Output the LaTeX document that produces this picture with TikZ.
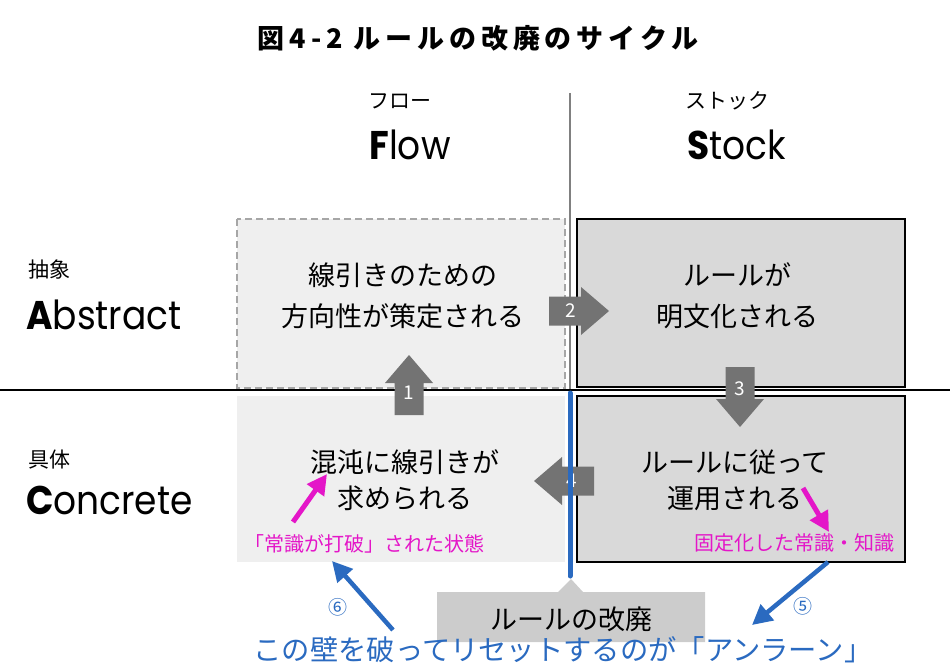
\documentclass[tikz,border=0pt]{standalone}
\usepackage{fontspec}
\usepackage{tikz}
\usetikzlibrary{arrows.meta}
\setmainfont{Noto Sans CJK JP}
\newfontfamily\geo{Poppins}[FakeStretch=0.9]
\newfontfamily\titrefont{Noto Sans CJK JP}[LetterSpace=18]
\definecolor{clair}{RGB}{239,239,239}
\definecolor{fonce}{RGB}{217,217,217}
\definecolor{grisfleche}{RGB}{115,115,115}
\definecolor{grisbulle}{RGB}{204,204,204}
\definecolor{bleumur}{RGB}{42,106,192}
\definecolor{rose}{RGB}{228,22,200}
\newcommand{\longfl}{60}
\newcommand{\queuefl}{32}
\newcommand{\demiq}{14.5}
\newcommand{\demit}{24}
\tikzstyle{cadre}=[draw=black,line width=2pt,fill=fonce]
\tikzstyle{pointille}=[draw=black!35,line width=1.5pt,dash pattern=on 7pt off 4pt,fill=clair]
\tikzstyle{texte}=[align=center,inner sep=0]
\tikzstyle{num}=[text=white,inner sep=0,font=\fontsize{19}{19}\selectfont]
\tikzstyle{note}=[text=rose,inner sep=0,font=\fontsize{20}{20}\selectfont]
\tikzstyle{rappel}=[line width=4.5pt,-{Triangle[length=20pt,width=20pt]}]
\tikzstyle{titre}=[font=\fontsize{40}{40}\selectfont\geo,inner sep=0]
\tikzstyle{sous}=[font=\fontsize{21}{21}\selectfont,inner sep=0]
\newcommand{\fleche}[3]{
  \begin{scope}[shift={#1},rotate=#2]
    \fill[grisfleche] (0,-\demiq) -- (\queuefl,-\demiq) -- (\queuefl,-\demit) -- (\longfl,0)
      -- (\queuefl,\demit) -- (\queuefl,\demiq) -- (0,\demiq) -- cycle;
    \node[num] at (22,0) {#3};
  \end{scope}
}
\begin{document}
\begin{tikzpicture}[x=1pt,y=-1pt]
\useasboundingbox (0,0) rectangle (950,671);

\node[font=\titrefont\bfseries\fontsize{27}{27}\selectfont] (fig) at (478,38) {図4-2 ルールの改廃のサイクル};

%axes
\draw[black!50,line width=1.2pt] (570,93) -- (570,390);
\draw[line width=1.3pt] (0,390) -- (950,390);

\node[sous] (flux) at (400,101) {フロー};
\node[titre] (flow) at (410,145) {{\bfseries F}low};
\node[sous] (stock) at (727,101) {ストック};
\node[titre] (stk) at (737,145) {{\bfseries S}tock};

\node[sous,anchor=west] (abs) at (28,270) {抽象};
\node[titre,anchor=west] (abstract) at (26,315) {{\bfseries A}bstract};
\node[sous,anchor=west] (conc) at (28,460) {具体};
\node[titre,anchor=west] (concrete) at (26,500) {{\bfseries C}oncrete};

%cases
\path[pointille] (237,219) rectangle (565,388);
\path[cadre] (577,219) rectangle (905,387);
\path[fill=clair] (237,396) rectangle (565,562);
\path[cadre] (577,396) rectangle (905,562);

\node[texte,font=\fontsize{27}{41}\selectfont] (ligne) at (403,296) {線引きのための\\方向性が策定される};
\node[texte,font=\fontsize{27}{41}\selectfont] (regle) at (737,296) {ルールが\\明文化される};
\node[texte,font=\fontsize{27}{36}\selectfont] (chaos) at (405,480) {混沌に線引きが\\求められる};
\node[texte,font=\fontsize{27}{36}\selectfont] (usage) at (735,480) {ルールに従って\\運用される};

%fleches 1 a 4
\fleche{(409,415)}{90}{1}
\fleche{(549,311)}{0}{2}
\fleche{(740,367)}{-90}{3}
\fleche{(594,481)}{180}{4}

%le mur
\draw[bleumur,line width=5pt,line cap=round] (570,393) -- (570,576);

\fill[grisbulle] (437,592) -- (558,592) -- (571,579) -- (583,592) -- (705,592) -- (705,642) -- (437,642) -- cycle;
\node[font=\fontsize{27}{27}\selectfont,inner sep=0] (bulle) at (571,619) {ルールの改廃};

%notes
\node[note] (brise) at (364,544) {「常識が打破」された状態};
\node[note] (fige) at (794,543) {固定化した常識・知識};
\coordinate (r1) at (293,522);
\coordinate (r2) at (327,474);
\coordinate (r3) at (803,488);
\coordinate (r4) at (829,532);
\draw[rappel,rose,line width=5pt] (r1) -- (r2);
\draw[rappel,rose,line width=5pt] (r3) -- (r4);

%retour
\node[text=bleumur,inner sep=0,font=\fontsize{28.3}{28.3}\selectfont] (unlearn) at (563,650) {この壁を破ってリセットするのが「アンラーン」};
\node[text=bleumur,inner sep=0,font=\fontsize{19}{19}\selectfont] (six) at (338,607) {⑥};
\node[text=bleumur,inner sep=0,font=\fontsize{19}{19}\selectfont] (cinq) at (803,606) {⑤};
\coordinate (b5) at (828,562);
\coordinate (e5) at (752,625);
\coordinate (b6) at (393,630);
\coordinate (e6) at (332,561);
\draw[rappel,bleumur] (b5) -- (e5);
\draw[rappel,bleumur] (b6) -- (e6);
\end{tikzpicture}
\end{document}
